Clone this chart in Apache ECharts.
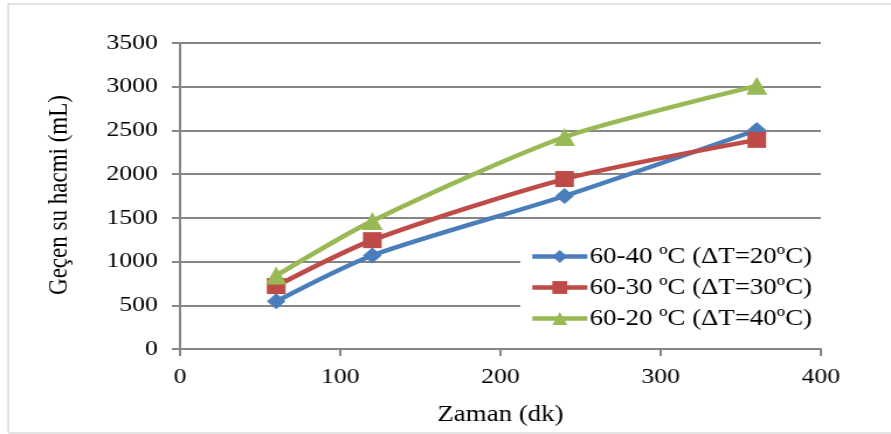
<!DOCTYPE html>
<html>
<head>
<meta charset="utf-8">
<script src="https://cdn.jsdelivr.net/npm/echarts@6/dist/echarts.min.js"></script>
<style>
html, body { margin: 0; padding: 0; background: #fff; overflow: hidden; }
/* the original picture is stretched sideways, so draw narrower and stretch back */
#main { width: 762px; height: 434px; transform: scaleX(1.1693); transform-origin: 0 0; }
</style>
</head>
<body>
<div id="main"></div>
<script>
// data
var times = [60, 120, 240, 360];
var s1 = [545, 1070, 1750, 2505];   // 60-40
var s2 = [720, 1245, 1944, 2392];   // 60-30
var s3 = [840, 1465, 2425, 3010];   // 60-20
var names = ['60-40 ºC (ΔT=20ºC)', '60-30 ºC (ΔT=30ºC)', '60-20 ºC (ΔT=40ºC)'];
var colors = ['#4A7EBB', '#BE4B48', '#98B954'];
var symbols = ['diamond', 'rect', 'triangle'];

function pairs(xs, ys) {
	return xs.map(function(x, i) {
				return [x, ys[i]];
			});
}

function plain(v) {
	return String(v);
}

var font = '"Liberation Serif", "Times New Roman", serif';
var grey = '#868686';

var myChart = echarts.init(document.getElementById('main'));

var option = {
	backgroundColor : '#FFFFFF',
	animation : false,
	textStyle : {
		fontFamily : font
	},
	graphic : [{
				type : 'rect',
				shape : {
					x : 7,
					y : 4,
					width : 800,
					height : 429
				},
				style : {
					fill : 'none',
					stroke : '#C8C8C8',
					lineWidth : 1
				},
				z : -1
			}, {
				// y axis title
				type : 'text',
				x : 51,
				y : 195,
				rotation : Math.PI / 2,
				style : {
					text : 'Geçen su hacmi (mL)',
					font : '23px ' + font,
					fill : '#000',
					align : 'center',
					verticalAlign : 'middle'
				}
			}],
	grid : {
		left : 154,
		right : 60,
		top : 43,
		bottom : 85
	},
	legend : {
		left : 445,
		top : 239,
		orient : 'vertical',
		itemWidth : 47,
		itemHeight : 16,
		itemGap : 8,
		padding : [6, 10, 8, 8],
		backgroundColor : '#FFFFFF',
		lineStyle : {
			width : 4.5
		},
		textStyle : {
			fontFamily : font,
			fontSize : 23,
			color : '#000',
			padding : [0, 0, 0, -3]
		},
		data : names
	},
	xAxis : {
		type : 'value',
		min : 0,
		max : 400,
		interval : 100,
		name : 'Zaman (dk)',
		nameLocation : 'middle',
		nameGap : 54,
		nameTextStyle : {
			fontFamily : font,
			fontSize : 23,
			color : '#000'
		},
		axisLine : {
			lineStyle : {
				color : grey,
				width : 2
			}
		},
		axisTick : {
			show : true,
			length : 7,
			lineStyle : {
				color : grey,
				width : 2
			}
		},
		axisLabel : {
			fontFamily : font,
			fontSize : 22,
			color : '#000',
			margin : 17,
			formatter : plain
		},
		splitLine : {
			show : false
		}
	},
	yAxis : {
		type : 'value',
		min : 0,
		max : 3500,
		interval : 500,
		axisLine : {
			show : true,
			lineStyle : {
				color : grey,
				width : 2
			}
		},
		axisTick : {
			show : true,
			length : 7,
			lineStyle : {
				color : grey,
				width : 2
			}
		},
		axisLabel : {
			fontFamily : font,
			fontSize : 22,
			color : '#000',
			margin : 19,
			formatter : plain
		},
		splitLine : {
			lineStyle : {
				color : grey,
				width : 2
			}
		}
	},
	series : [s1, s2, s3].map(function(ys, i) {
				return {
					name : names[i],
					type : 'line',
					data : pairs(times, ys),
					smooth : 0.25,
					symbol : symbols[i],
					symbolSize : i == 2 ? 18 : 16,
					color : colors[i],
					lineStyle : {
						width : 4.5,
						color : colors[i]
					},
					itemStyle : {
						color : colors[i]
					}
				};
			})
};

myChart.setOption(option);
</script>
</body>
</html>
